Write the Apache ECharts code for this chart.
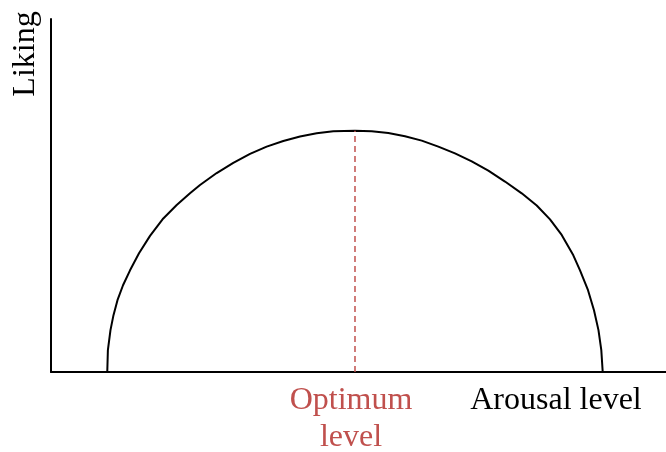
<!DOCTYPE html>
<html>
<head>
<meta charset="utf-8">
<script src="https://cdn.jsdelivr.net/npm/echarts@6/dist/echarts.min.js"></script>
<style>
  html, body { margin: 0; padding: 0; background: #fff; }
  #chart { width: 666px; height: 452px; }
</style>
</head>
<body>
<div id="chart"></div>
<script>
// arousal (x) and liking (y), left foot -> peak -> right foot
const arousal = [0.915, 0.925, 0.967, 1.016, 1.081, 1.171, 1.285, 1.431, 1.610, 1.826, 2.044, 2.260,
                 2.423, 2.694, 2.964, 3.236, 3.507, 3.777, 4.049, 4.320, 4.590, 4.943,
                 5.215, 5.485, 5.756, 6.028, 6.298, 6.569, 6.841, 7.111, 7.382, 7.654, 7.898,
                 8.114, 8.304, 8.493, 8.602, 8.732, 8.829, 8.902, 8.948, 8.971];
const liking = [0, 0.621, 1.186, 1.610, 2.034, 2.458, 2.881, 3.362, 3.856, 4.350, 4.732, 5.062,
                5.297, 5.636, 5.924, 6.178, 6.384, 6.545, 6.672, 6.763, 6.819, 6.836,
                6.819, 6.768, 6.681, 6.554, 6.384, 6.192, 5.966, 5.706, 5.395, 5.062, 4.718,
                4.322, 3.884, 3.305, 2.881, 2.316, 1.751, 1.186, 0.621, 0];
const optimum = 4.943;
const peak = 6.836;

const curve = arousal.map((x, i) => [x, liking[i]]);

const chart = echarts.init(document.getElementById('chart'));
const serif = 'Liberation Serif';

chart.setOption({
  animation: false,
  grid: { left: 51, right: 0, top: 19, bottom: 80 },
  xAxis: {
    type: 'value', min: 0, max: 10,
    axisLine: { show: true, lineStyle: { color: '#000', width: 2 } },
    axisTick: { show: false }, axisLabel: { show: false }, splitLine: { show: false }
  },
  yAxis: {
    type: 'value', min: 0, max: 10,
    axisLine: { show: true, lineStyle: { color: '#000', width: 2 } },
    axisTick: { show: false }, axisLabel: { show: false }, splitLine: { show: false }
  },
  series: [
    {
      type: 'line',
      data: curve,
      smooth: false,
      showSymbol: false,
      lineStyle: { color: '#000', width: 2, join: 'round' }
    },
    {
      type: 'line',
      data: [[optimum, 0], [optimum, peak]],
      showSymbol: false,
      lineStyle: { color: '#c0504d', width: 1.5, type: [6, 4] }
    }
  ],
  graphic: [
    {
      type: 'text', x: 26, y: 54, rotation: Math.PI / 2,
      style: { text: 'Liking', font: '32px "' + serif + '"', fill: '#000', align: 'center', verticalAlign: 'middle' }
    },
    {
      type: 'text', x: 351, y: 419,
      style: { text: 'Optimum\nlevel', font: '32px "' + serif + '"', lineHeight: 37, fill: '#c0504d', align: 'center', verticalAlign: 'middle' }
    },
    {
      type: 'text', x: 556, y: 401,
      style: { text: 'Arousal level', font: '32px "' + serif + '"', fill: '#000', align: 'center', verticalAlign: 'middle' }
    }
  ]
});
</script>
</body>
</html>
